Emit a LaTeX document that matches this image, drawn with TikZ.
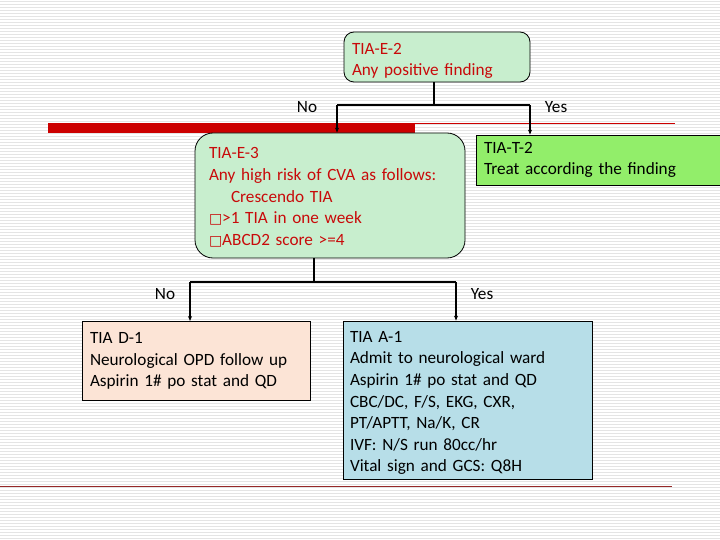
\documentclass[tikz,border=0pt]{standalone}
\usepackage{fontspec}
\setmainfont{Carlito}
\newfontfamily\symfont{DejaVu Sans}
\usetikzlibrary{arrows.meta}
\definecolor{boxgreen}{RGB}{200,238,206}
\definecolor{brightgreen}{RGB}{146,238,106}
\definecolor{peach}{RGB}{252,228,214}
\definecolor{lightblue}{RGB}{183,222,232}
\definecolor{txtred}{RGB}{200,10,10}
\definecolor{barred}{RGB}{204,0,0}
\definecolor{maroon}{RGB}{150,40,40}
\definecolor{stripe}{RGB}{228,228,228}
\newcommand{\sq}{{\symfont\fontsize{14}{21.6}\selectfont □}}
\tikzset{
  txt/.style={font=\fontsize{17.2}{21.6}\selectfont},
  boxbase/.style={txt, draw=black, line width=0.8pt, align=left, inner ysep=3pt},
  roundbox/.style={boxbase, rounded corners=10pt, fill=boxgreen, text=txtred},
  flatbox/.style={boxbase, text=black},
  conn/.style={draw=black, line width=1.3pt},
  arr/.style={conn, -{Stealth[length=5pt,width=4pt]}},
  lbl/.style={txt, text=black, inner sep=0pt}
}
\begin{document}
\begin{tikzpicture}[x=1pt,y=-1pt]
\useasboundingbox (0,0) rectangle (720,540);
\fill[white] (0,0) rectangle (720,540);
\foreach \yy in {1.5,4.5,...,540} \draw[stripe, line width=0.6pt] (0,\yy) -- (720,\yy);

% decorative bars
\fill[barred] (48,123) rectangle (415,133);
\draw[barred, line width=0.8pt] (415,123.4) -- (675,123.4);
\draw[maroon, line width=0.8pt] (0,486) -- (672,486);

% boxes
\node[roundbox, minimum width=186pt, minimum height=50pt, text width=170pt, inner xsep=8pt] (e2) at (437,57)
  {\rule{0pt}{19pt}TIA-E-2\\Any positive finding};
\node[roundbox, rounded corners=18pt, minimum width=270pt, minimum height=125pt, text width=242pt, inner xsep=14pt] (e3) at (330,195.5)
  {\rule{0pt}{15pt}TIA-E-3\\Any high risk of CVA as follows:\\\hspace*{22pt}Crescendo TIA\\\sq>1 TIA in one week\\\sq ABCD2 score >=4};
\node[flatbox, fill=brightgreen, minimum width=248pt, minimum height=50pt, text width=232pt, inner xsep=8pt] (t2) at (600,160)
  {TIA-T-2\\Treat according the finding};
\node[flatbox, fill=peach, minimum width=228pt, minimum height=79pt, text width=212pt, inner xsep=8pt, anchor=north] (d1) at (196,321)
  {TIA D-1\\Neurological OPD follow up\\Aspirin 1\# po stat and QD};
\node[flatbox, fill=lightblue, minimum width=249pt, minimum height=158pt, text width=235pt, inner xsep=7pt] (a1) at (467.5,400)
  {\rule{0pt}{17pt}TIA A-1\\Admit to neurological ward\\Aspirin 1\# po stat and QD\\CBC/DC, F/S, EKG, CXR,\\PT/APTT, Na/K, CR\\IVF: N/S run 80cc/hr\\Vital sign and GCS: Q8H};

% connectors
\coordinate (j1) at (434,105);
\coordinate (j1l) at (337,105);
\coordinate (j1r) at (530,105);
\draw[conn] (e2.south -| j1) -- (j1);
\draw[conn] (j1l) -- (j1r);
\draw[arr] (j1l) -- (j1l |- e3.north);
\draw[arr] (j1r) -- (j1r |- t2.north);

\coordinate (j2) at (314,282);
\coordinate (j2l) at (190,282);
\coordinate (j2r) at (456,282);
\draw[conn] (e3.south -| j2) -- (j2);
\draw[conn] (j2l) -- (j2r);
\draw[arr] (j2l) -- (j2l |- d1.north);
\draw[arr] (j2r) -- (j2r |- a1.north);

% labels
\node[lbl] (no1) at (307,107) {No};
\node[lbl] (yes1) at (556,107) {Yes};
\node[lbl] (no2) at (165,294) {No};
\node[lbl] (yes2) at (482,294) {Yes};
\end{tikzpicture}
\end{document}
